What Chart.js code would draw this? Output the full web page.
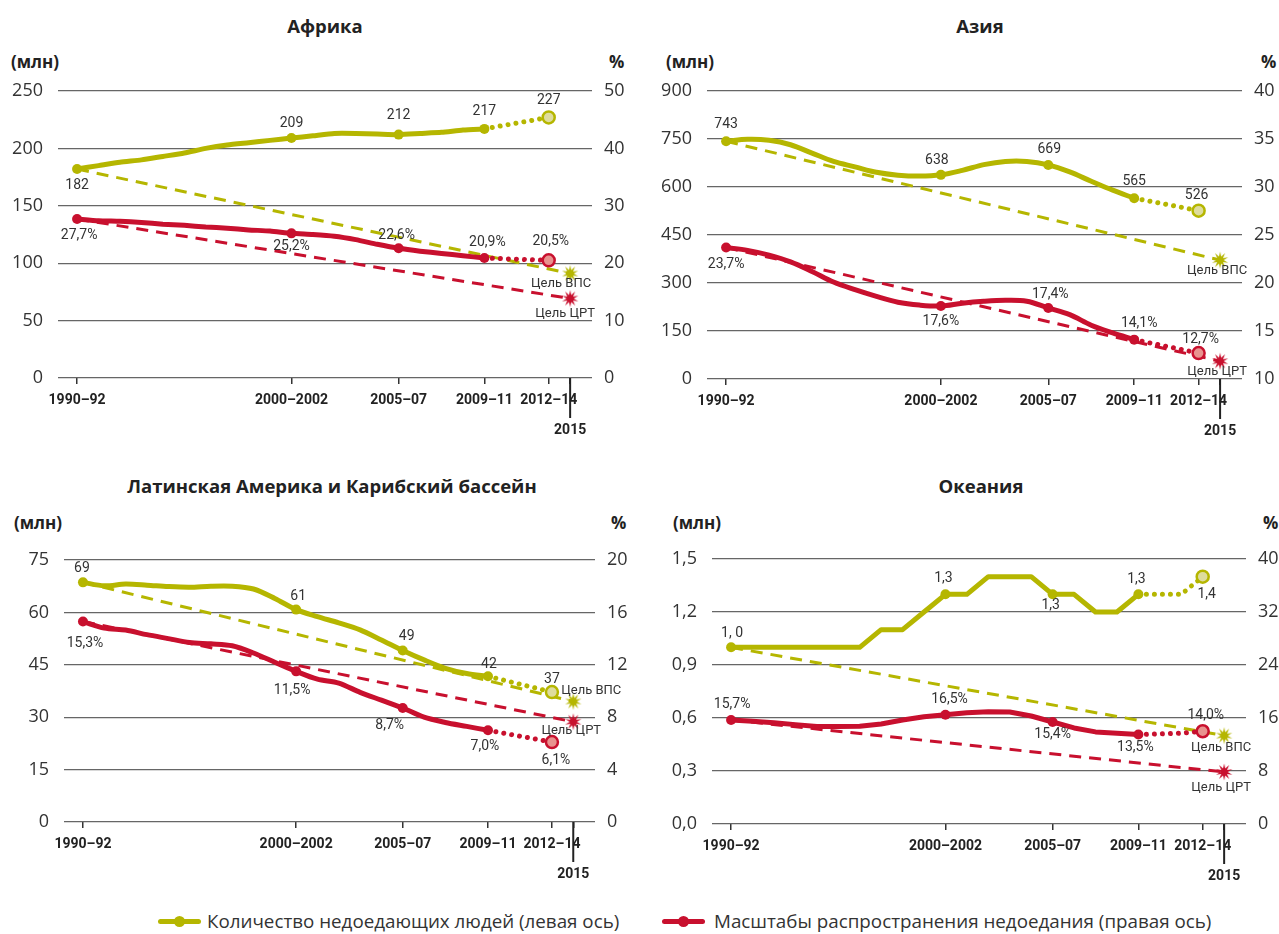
<!DOCTYPE html>
<html lang="ru">
<head>
<meta charset="UTF-8">
<title>Недоедание по регионам</title>
<script src="https://cdn.jsdelivr.net/npm/chart.js"></script>
<style>
  body { margin: 0; background: #fff; font-family: 'Open Sans', sans-serif; color: #222; }
  #page { position: relative; width: 1279px; height: 934px; overflow: hidden; }
  canvas { position: absolute; }
  .title { position: absolute; font-weight: bold; font-size: 18.5px; transform: translate(-50%, -50%); white-space: nowrap; }
  .unit { position: absolute; font-weight: bold; font-size: 17px; transform: translateY(-50%); white-space: nowrap; }
  .leg { position: absolute; top: 921px; transform: translateY(-50%); font-size: 18.8px; white-space: nowrap; color: #333; }
  .legline { position: absolute; height: 5px; top: 918.5px; border-radius: 3px; }
  .legdot { position: absolute; width: 11px; height: 11px; top: 915.5px; border-radius: 50%; }
</style>
</head>
<body>
<div id="page">
  <div class="title" style="left:325px; top:25px">Африка</div>
  <div class="title" style="left:980px; top:25px">Азия</div>
  <div class="title" style="left:332px; top:485px">Латинская Америка и Карибский бассейн</div>
  <div class="title" style="left:981px; top:485px">Океания</div>

  <div class="unit" style="left:11px; top:61px">(млн)</div>
  <div class="unit" style="left:609px; top:61px">%</div>
  <div class="unit" style="left:666px; top:61px">(млн)</div>
  <div class="unit" style="left:1261px; top:61px">%</div>
  <div class="unit" style="left:14px; top:522px">(млн)</div>
  <div class="unit" style="left:611px; top:522px">%</div>
  <div class="unit" style="left:673px; top:522px">(млн)</div>
  <div class="unit" style="left:1263px; top:522px">%</div>

  <canvas id="africa" width="640" height="450" style="left:0; top:0"></canvas>
  <canvas id="asia" width="639" height="450" style="left:640px; top:0"></canvas>
  <canvas id="latam" width="640" height="450" style="left:0; top:450px"></canvas>
  <canvas id="oceania" width="639" height="450" style="left:640px; top:450px"></canvas>

  <div class="legline" style="left:158px; width:43px; background:#b5b600"></div>
  <div class="legdot" style="left:174px; background:#b5b600"></div>
  <div class="leg" style="left:207px">Количество недоедающих людей (левая ось)</div>
  <div class="legline" style="left:662px; width:43px; background:#c8102e"></div>
  <div class="legdot" style="left:678px; background:#c8102e"></div>
  <div class="leg" style="left:714px">Масштабы распространения недоедания (правая ось)</div>
</div>

<script>
// годы (середина трёхлетнего периода)
const years = [1991, 1992, 1993, 1994, 1995, 1996, 1997, 1998, 1999, 2000,
               2001, 2002, 2003, 2004, 2005, 2006, 2007, 2008, 2009, 2010];
const periodYears = [1991, 2001, 2006, 2010];
const xTickYears = [1991, 2001, 2006, 2010, 2013, 2014];
const xTickLabels = ['1990–92', '2000–2002', '2005–07', '2009–11', '2012–14', ['', '2015']];
const projYears = [2013];
const goalYear = 2014;

// Африка
const africaPeople = [182, 185, 188, 190, 193, 196, 200, 203, 205, 207,
                      209, 211, 213, 213, 212.5, 212, 213, 214, 216, 217];
const africaShare = [27.7, 27.4, 27.3, 27.1, 26.8, 26.6, 26.3, 26.1, 25.8, 25.6,
                     25.2, 25.0, 24.7, 24.1, 23.3, 22.6, 22.1, 21.7, 21.3, 20.9];
const africaPeopleProj = [227];
const africaShareProj = [20.5];
const africaPeopleGoal = 91;
const africaShareGoal = 13.85;
const africaLeftTicks = [0, 50, 100, 150, 200, 250];
const africaRightTicks = [0, 10, 20, 30, 40, 50];

// Азия
const asiaPeople = [743, 749, 746, 732, 706, 680, 663, 646, 637, 634,
                    638, 652, 670, 680, 680, 669, 647, 618, 590, 565];
const asiaShare = [23.7, 23.4, 22.9, 22.2, 21.2, 20.1, 19.3, 18.6, 18.0, 17.7,
                   17.6, 17.9, 18.1, 18.2, 18.1, 17.4, 16.7, 15.6, 14.8, 14.1];
const asiaPeopleProj = [526];
const asiaShareProj = [12.7];
const asiaPeopleGoal = 371.5;
const asiaShareGoal = 11.85;
const asiaLeftTicks = [0, 150, 300, 450, 600, 750, 900];
const asiaRightTicks = [10, 15, 20, 25, 30, 35, 40];

// Латинская Америка и Карибский бассейн
const latamPeople = [68.6, 67.6, 68.1, 67.8, 67.4, 67.2, 67.5, 67.5, 66.7, 64.0,
                     60.8, 58.8, 57.0, 55.0, 52.1, 49.1, 46.4, 44.0, 42.5, 41.7];
const latamShare = [15.3, 14.8, 14.65, 14.3, 14.0, 13.7, 13.6, 13.45, 12.9, 12.2,
                    11.5, 10.9, 10.6, 9.9, 9.3, 8.7, 8.0, 7.6, 7.3, 7.0];
const latamPeopleProj = [37.2];
const latamShareProj = [6.1];
const latamPeopleGoal = 34.5;
const latamShareGoal = 7.65;
const latamLeftTicks = [0, 15, 30, 45, 60, 75];
const latamRightTicks = [0, 4, 8, 12, 16, 20];

// Океания
const oceaniaPeople = [1.0, 1.0, 1.0, 1.0, 1.0, 1.0, 1.0, 1.1, 1.1, 1.2,
                       1.3, 1.3, 1.4, 1.4, 1.4, 1.3, 1.3, 1.2, 1.2, 1.3];
const oceaniaShare = [15.7, 15.5, 15.3, 15.0, 14.7, 14.7, 14.75, 15.1, 15.7, 16.2,
                      16.5, 16.8, 16.95, 16.9, 16.3, 15.4, 14.5, 13.9, 13.7, 13.5];
const oceaniaProjYears = [2012, 2013];
const oceaniaPeopleProj = [1.3, 1.4];
const oceaniaShareProj = [13.7, 14.0];
const oceaniaPeopleGoal = 0.5;
const oceaniaShareGoal = 7.85;
const oceaniaLeftTicks = [0, 0.3, 0.6, 0.9, 1.2, 1.5];
const oceaniaRightTicks = [0, 8, 16, 24, 32, 40];

const YELLOW = '#b5b600';
const RED = '#c8102e';
const YELLOW_PALE = '#dedc9e';
const RED_PALE = '#e8938f';
const NARROW = 'Roboto, sans-serif';

const comma = (v, d) => v.toFixed(d).replace('.', ',');
const pct = v => comma(v, 1) + '%';

function burst(color) {
  const c = document.createElement('canvas');
  c.width = 18; c.height = 18;
  const g = c.getContext('2d');
  g.fillStyle = color;
  g.beginPath();
  const n = 10;
  for (let k = 0; k < n * 2; k++) {
    const r = k % 2 === 0 ? 8.5 : 3.6;
    const a = Math.PI * k / n - Math.PI / 2;
    g.lineTo(9 + r * Math.cos(a), 9 + r * Math.sin(a));
  }
  g.closePath();
  g.fill();
  return c;
}
const yellowStar = burst(YELLOW);
const redStar = burst(RED);

// подписи значений и длинная засечка 2015
function labelPlugin(items) {
  return {
    id: 'pointLabels',
    afterDatasetsDraw(chart) {
      const ctx = chart.ctx;
      ctx.save();
      ctx.textAlign = 'center';
      ctx.textBaseline = 'middle';
      ctx.fillStyle = '#333';
      items.forEach(it => {
        const el = chart.getDatasetMeta(it.ds).data[it.i];
        ctx.font = (it.small ? '13px ' : '14px ') + NARROW;
        ctx.fillText(it.text, el.x + it.dx, el.y + it.dy);
      });
      const x = chart.scales.x.getPixelForValue(goalYear);
      const b = chart.chartArea.bottom;
      ctx.strokeStyle = '#222';
      ctx.lineWidth = 2;
      ctx.beginPath();
      ctx.moveTo(x, b);
      ctx.lineTo(x, b + 40);
      ctx.stroke();
      ctx.restore();
    }
  };
}

function makeChart(id, p) {
  const pts = vals => years.map((x, i) => ({x, y: vals[i]}));
  const pYears = p.projYears || projYears;
  const proj = (vals, proj) => [{x: 2010, y: vals[vals.length - 1]}]
    .concat(pYears.map((x, i) => ({x, y: proj[i]})));
  const goal = (vals, g) => [{x: 1991, y: vals[0]}, {x: goalYear, y: g}];
  const last = pYears.length;

  const solid = (data, color, axis) => ({
    data, yAxisID: axis, borderColor: color, backgroundColor: color,
    borderWidth: 5, tension: p.tension, borderJoinStyle: 'round', borderCapStyle: 'round',
    pointRadius: ctx => periodYears.includes(ctx.raw.x) ? 5 : 0,
    pointBorderWidth: 0
  });
  const dotted = (data, color, pale, axis) => ({
    data, yAxisID: axis, borderColor: color, borderWidth: 5,
    borderDash: [0.01, 8], borderCapStyle: 'round', tension: 0,
    pointRadius: ctx => ctx.dataIndex === last ? 6 : 0,
    pointBackgroundColor: pale, pointBorderColor: color, pointBorderWidth: 2.5
  });
  const dashed = (data, color, star, axis) => ({
    data, yAxisID: axis, borderColor: color, borderWidth: 3,
    borderDash: [12, 8], tension: 0,
    pointStyle: ctx => ctx.dataIndex === 1 ? star : 'circle',
    pointRadius: ctx => ctx.dataIndex === 1 ? 8 : 0
  });

  const datasets = [
    solid(pts(p.share), RED, 'y1'),
    solid(pts(p.people), YELLOW, 'y'),
    dotted(proj(p.share, p.shareProj), RED, RED_PALE, 'y1'),
    dotted(proj(p.people, p.peopleProj), YELLOW, YELLOW_PALE, 'y'),
    dashed(goal(p.share, p.shareGoal), RED, redStar, 'y1'),
    dashed(goal(p.people, p.peopleGoal), YELLOW, yellowStar, 'y')
  ];

  // подписи: четыре периода + последняя точка прогноза
  const idx = periodYears.map(y => years.indexOf(y));
  const items = [];
  idx.forEach((i, k) => {
    items.push({ds: 1, i, text: p.fmt(p.people[i]), dx: p.peopleOff[k][0], dy: p.peopleOff[k][1]});
    items.push({ds: 0, i, text: pct(p.share[i]), dx: p.shareOff[k][0], dy: p.shareOff[k][1]});
  });
  items.push({ds: 3, i: last, text: p.fmt(p.peopleProj[last - 1]), dx: p.peopleOff[4][0], dy: p.peopleOff[4][1]});
  items.push({ds: 2, i: last, text: pct(p.shareProj[last - 1]), dx: p.shareOff[4][0], dy: p.shareOff[4][1]});
  items.push({ds: 5, i: 1, text: 'Цель ВПС', dx: p.goalOff[0][0], dy: p.goalOff[0][1], small: true});
  items.push({ds: 4, i: 1, text: 'Цель ЦРТ', dx: p.goalOff[1][0], dy: p.goalOff[1][1], small: true});
  if (p.firstText) items[0].text = p.firstText;

  const tickFont = { family: 'Open Sans', size: 18 };

  new Chart(document.getElementById(id), {
    type: 'line',
    data: { datasets },
    options: {
      responsive: false,
      animation: false,
      layout: { padding: { top: p.padTop, left: 0, right: 0, bottom: 0 } },
      plugins: { legend: { display: false }, tooltip: { enabled: false } },
      scales: {
        x: {
          type: 'linear', min: 1990.11, max: 2015.02,
          afterBuildTicks: s => { s.ticks = xTickYears.map(v => ({value: v})); },
          afterFit: s => { s.height = p.xH; },
          border: { display: false },
          grid: { drawOnChartArea: false, drawTicks: true, tickLength: 6, color: '#333', lineWidth: 1.5 },
          ticks: {
            autoSkip: false, maxRotation: 0, padding: 1, color: '#222',
            font: { family: NARROW, size: 14, weight: 'bold', lineHeight: '30px' },
            callback: (v, i) => xTickLabels[i]
          }
        },
        y: {
          position: 'left', min: p.leftTicks[0], max: p.leftTicks[p.leftTicks.length - 1],
          afterBuildTicks: s => { s.ticks = p.leftTicks.map(v => ({value: v})); },
          afterFit: s => { s.width = p.leftW; },
          border: { display: false },
          grid: { color: '#666', lineWidth: 1.2, drawTicks: false },
          ticks: { padding: 15, color: '#333', font: tickFont, callback: v => p.leftFmt(v) }
        },
        y1: {
          position: 'right', min: p.rightTicks[0], max: p.rightTicks[p.rightTicks.length - 1],
          afterBuildTicks: s => { s.ticks = p.rightTicks.map(v => ({value: v})); },
          afterFit: s => { s.width = p.rightW; },
          border: { display: false },
          grid: { display: false, drawTicks: false },
          ticks: { padding: 12, color: '#333', font: tickFont, callback: v => String(v) }
        }
      }
    },
    plugins: [labelPlugin(items)]
  });
}

const intFmt = v => String(Math.round(v));

makeChart('africa', {
  people: africaPeople, share: africaShare,
  peopleProj: africaPeopleProj, shareProj: africaShareProj,
  peopleGoal: africaPeopleGoal, shareGoal: africaShareGoal,
  leftTicks: africaLeftTicks, rightTicks: africaRightTicks,
  leftFmt: intFmt, fmt: intFmt, tension: 0.2,
  padTop: 91, leftW: 58, rightW: 48, xH: 72,
  peopleOff: [[0, 16], [0, -15], [0, -19], [0, -17], [0, -17]],
  shareOff: [[2, 16], [0, 13], [-2, -13], [3, -16], [2, -19]],
  goalOff: [[-9, 10], [-5, 15]]
});

makeChart('asia', {
  people: asiaPeople, share: asiaShare,
  peopleProj: asiaPeopleProj, shareProj: asiaShareProj,
  peopleGoal: asiaPeopleGoal, shareGoal: asiaShareGoal,
  leftTicks: asiaLeftTicks, rightTicks: asiaRightTicks,
  leftFmt: intFmt, fmt: intFmt, tension: 0.35,
  padTop: 91, leftW: 67, rightW: 37, xH: 71,
  peopleOff: [[0, -17], [-4, -14], [1, -15], [0, -17], [-2, -15]],
  shareOff: [[0, 17], [0, 15], [2, -13], [5, -16], [2, -14]],
  goalOff: [[-3, 11], [-3, 11]]
});

makeChart('latam', {
  people: latamPeople, share: latamShare,
  peopleProj: latamPeopleProj, shareProj: latamShareProj,
  peopleGoal: latamPeopleGoal, shareGoal: latamShareGoal,
  leftTicks: latamLeftTicks, rightTicks: latamRightTicks,
  leftFmt: intFmt, fmt: intFmt, tension: 0.3,
  padTop: 110, leftW: 64, rightW: 45, xH: 78,
  peopleOff: [[-1, -14], [2, -13], [4, -14], [1, -12], [0, -13]],
  shareOff: [[2, 22], [-4, 19], [-13, 17], [-3, 16], [4, 18]],
  goalOff: [[18, -11], [-2, 9]]
});

makeChart('oceania', {
  people: oceaniaPeople, share: oceaniaShare,
  projYears: oceaniaProjYears,
  peopleProj: oceaniaPeopleProj, shareProj: oceaniaShareProj,
  peopleGoal: oceaniaPeopleGoal, shareGoal: oceaniaShareGoal,
  leftTicks: oceaniaLeftTicks, rightTicks: oceaniaRightTicks,
  leftFmt: v => comma(v, 1), fmt: v => comma(v, 1), tension: 0,
  firstText: '1, 0',
  padTop: 109, leftW: 72, rightW: 33, xH: 76,
  peopleOff: [[1, -14], [-2, -16], [-2, 11], [-2, -15], [4, 18]],
  shareOff: [[1, -15], [4, -15], [0, 13], [-3, 13], [3, -16]],
  goalOff: [[-3, 12], [-3, 16]]
});
</script>
</body>
</html>
